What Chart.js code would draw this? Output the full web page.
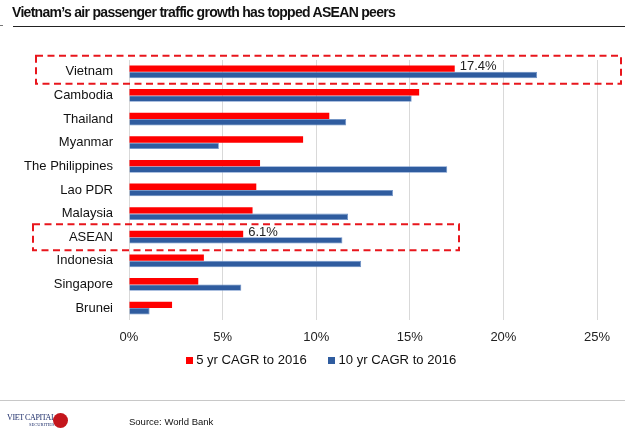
<!DOCTYPE html>
<html>
<head>
<meta charset="utf-8">
<script src="https://cdn.jsdelivr.net/npm/chart.js@4/dist/chart.umd.min.js"></script>
<style>
  html, body { margin: 0; padding: 0; background: #fff; }
  body { width: 625px; height: 441px; position: relative; overflow: hidden; font-family: "Liberation Sans", Arial, sans-serif; }
  #wrap { position: absolute; left: 0; top: 0; width: 625px; height: 441px; }
  .title { position: absolute; left: 12px; top: 4px; font-size: 14px; line-height: 16px; font-weight: bold; color: #111; letter-spacing: -0.7px; }
  .rule { position: absolute; left: 13px; right: 0; top: 25.5px; height: 1.5px; background: #222; }
  .tick { position: absolute; left: 0; width: 3px; top: 25px; height: 1px; background: #777; }
  .foot { position: absolute; left: 0; right: 0; top: 400px; height: 1px; background: #c8c8c8; }
  .src { position: absolute; left: 129px; top: 416px; font-size: 9.5px; line-height: 12px; color: #111; }
  .logo { position: absolute; left: 7px; top: 413px; color: #1f2f6b; font-family: "Liberation Serif", serif; }
  .logo .a { position: absolute; left: 0; top: 0; font-size: 8px; white-space: nowrap; letter-spacing: -0.4px; }
  .logo .b { position: absolute; left: 22px; top: 9px; font-size: 4.5px; white-space: nowrap; }
  .logo .c { position: absolute; left: 46px; top: 0; width: 15px; height: 15px; border-radius: 50%; background: #c4161c; }
</style>
</head>
<body>
<div id="wrap"><canvas id="chart" width="625" height="441"></canvas></div>
<div class="title">Vietnam’s air passenger traffic growth has topped ASEAN peers</div>
<div class="rule"></div>
<div class="tick"></div>
<div class="foot"></div>
<div class="logo"><span class="a">VIET CAPITAL</span><span class="b">SECURITIES</span><span class="c"></span></div>
<div class="src">Source: World Bank</div>
<script>
const countries = ['Vietnam', 'Cambodia', 'Thailand', 'Myanmar', 'The Philippines', 'Lao PDR',
                   'Malaysia', 'ASEAN', 'Indonesia', 'Singapore', 'Brunei'];
const cagr5  = [17.4, 15.5, 10.7, 9.3, 7.0, 6.8, 6.6, 6.1, 4.0, 3.7, 2.3];
const cagr10 = [21.8, 15.1, 11.6, 4.8, 17.0, 14.1, 11.7, 11.4, 12.4, 6.0, 1.1];
const xTicks = [0, 5, 10, 15, 20, 25];
const seriesNames = ['5 yr CAGR to 2016', '10 yr CAGR to 2016'];
const seriesColors = ['#ff0000', '#2f5c9f'];
// rows framed with a dashed box, and the value printed next to their red bar
const highlights = [
  { row: 'Vietnam', label: '17.4%', top: 16, bottom: 12, left: 36, right: 621 },
  { row: 'ASEAN',   label: '6.1%',  top: 13, bottom: 13, left: 33, right: 459 }
];

const FONT = '"Liberation Sans", Arial, sans-serif';
const LEGEND_SHIFT = 24;   // legend sits a little right of the canvas centre

/* ── small square legend swatch ── */
function swatch(color){
  const c = document.createElement('canvas');
  c.width = 7; c.height = 7;
  const g = c.getContext('2d');
  g.fillStyle = color;
  g.fillRect(0, 0, 7, 7);
  return c;
}

/* ── dashed boxes + value labels ── */
const highlightPlugin = {
  id: 'highlights',
  afterLayout(chart){
    if (chart.legend){
      chart.legend.left  += LEGEND_SHIFT;
      chart.legend.right += LEGEND_SHIFT;
    }
  },
  afterDatasetsDraw(chart){
    const { ctx } = chart;
    const y = chart.scales.y, x = chart.scales.x;
    ctx.save();
    highlights.forEach(h => {
      const i = countries.indexOf(h.row);
      const cy = y.getPixelForValue(i);
      ctx.setLineDash([7, 4.5]);
      ctx.lineWidth = 2;
      ctx.strokeStyle = '#e8161c';
      ctx.strokeRect(h.left, cy - h.top, h.right - h.left, h.top + h.bottom);
      const bar = chart.getDatasetMeta(0).data[i];
      ctx.setLineDash([]);
      ctx.fillStyle = '#222';
      ctx.font = '13px ' + FONT;
      ctx.textBaseline = 'middle';
      ctx.textAlign = 'left';
      ctx.fillText(h.label, x.getPixelForValue(cagr5[i]) + 5, bar.y - 2);
    });
    ctx.restore();
  }
};

new Chart(document.getElementById('chart'), {
  type: 'bar',
  data: {
    labels: countries,
    datasets: [
      { label: seriesNames[0], data: cagr5,  backgroundColor: seriesColors[0], borderWidth: 0 },
      { label: seriesNames[1], data: cagr10, backgroundColor: seriesColors[1], borderColor: '#6a8fc6', borderWidth: 0.8, borderSkipped: 'start' }
    ]
  },
  options: {
    indexAxis: 'y',
    responsive: false,
    animation: false,
    datasets: { bar: { categoryPercentage: 0.54, barPercentage: 1 } },
    layout: { padding: { top: 60, right: 28, bottom: 64, left: 0 } },
    plugins: {
      legend: {
        position: 'bottom',
        labels: {
          usePointStyle: true, boxWidth: 1, boxHeight: 8, padding: 6, color: '#111',
          font: { family: FONT, size: 13.1 },
          generateLabels(chart){
            const items = Chart.defaults.plugins.legend.labels.generateLabels(chart);
            items.forEach((it, i) => {
              it.pointStyle = swatch(seriesColors[i]);
              if (i === 0) it.text += '     ';
            });
            return items;
          }
        }
      },
      tooltip: { enabled: false }
    },
    scales: {
      x: {
        min: 0, max: 25,
        afterBuildTicks(scale){ scale.ticks = xTicks.map(v => ({ value: v })); },
        afterFit(scale){ scale.height = 28; },
        grid: { color: '#d9d9d9', lineWidth: 1, drawTicks: false },
        border: { display: false },
        ticks: { padding: 10, color: '#222', font: { family: FONT, size: 13 }, callback: v => v + '%' }
      },
      y: {
        afterFit(scale){ scale.width = 129; },
        grid: { display: false },
        border: { display: false },
        ticks: { padding: 8, color: '#111', font: { family: FONT, size: 13 } }
      }
    }
  },
  plugins: [highlightPlugin]
});
</script>
</body>
</html>
